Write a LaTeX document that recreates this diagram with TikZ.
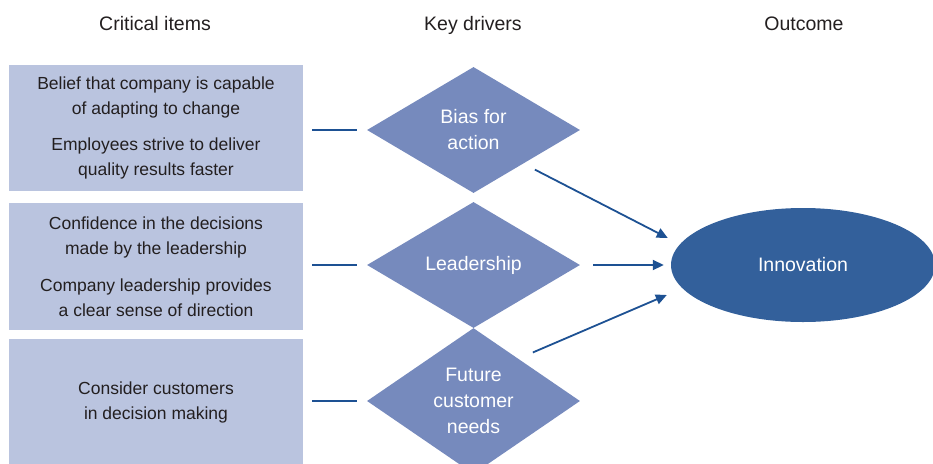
\documentclass[tikz,border=0pt]{standalone}
\usepackage{fontspec}
\setmainfont{Liberation Sans}
\usetikzlibrary{shapes.geometric,arrows.meta}

\definecolor{itemfill}{HTML}{BAC4DF}
\definecolor{driverfill}{HTML}{768ABD}
\definecolor{outcomefill}{HTML}{33609B}
\definecolor{linkblue}{HTML}{1D5193}
\definecolor{headgray}{HTML}{231F20}

\begin{document}
\begin{tikzpicture}[x=1pt,y=-1pt,
    colhead/.style={anchor=base, text=headgray, font=\fontsize{19.5}{22}\selectfont},
    itembox/.style={fill=itemfill, minimum width=294pt, inner sep=0pt, align=center,
                    text=headgray, font=\fontsize{17.5}{25}\selectfont},
    driver/.style={diamond, fill=driverfill, minimum width=213pt, minimum height=126pt,
                   inner sep=0pt, align=center, text=white, font=\fontsize{19.5}{26}\selectfont},
    outcome/.style={ellipse, fill=outcomefill, minimum width=264pt, minimum height=114pt,
                    inner sep=0pt, text=white, font=\fontsize{19.5}{22}\selectfont},
    tie/.style={draw=linkblue, line width=1.8pt, shorten <=9pt, shorten >=10pt},
    flow/.style={draw=linkblue, line width=1.8pt, -{Triangle[length=11pt,width=10pt]}}]
% help guide lines
%\draw[help lines] (0,0) grid [step=50pt] (933,463);
%
\useasboundingbox (0,0) rectangle (933,463);
% column headings
\node[colhead] (hcrit) at (155,30) {Critical items};
\node[colhead] (hdrv)  at (473,30) {Key drivers};
\node[colhead] (hout)  at (804,30) {Outcome};
% critical items
\node[itembox, minimum height=126pt] (crit1) at (156,128)
  {Belief that company is capable\\ of adapting to change\\[11pt]
   Employees strive to deliver\\ quality results faster};
\node[itembox, minimum height=127pt] (crit2) at (156,266.5)
  {Confidence in the decisions\\ made by the leadership\\[12pt]
   Company leadership provides\\ a clear sense of direction};
\node[itembox, minimum height=126pt] (crit3) at (156,402)
  {Consider customers\\ in decision making};
% key drivers
\node[driver] (drv1) at (473.5,130) {Bias for\\ action};
\node[driver] (drv2) at (473.5,265) {Leadership};
\node[driver] (drv3) at (473.5,401) {Future\\ customer\\ needs};
% outcome
\node[outcome] (outc) at (803,265) {Innovation};
% items to drivers
\draw[tie] (crit1.east |- drv1.west) -- (drv1.west);
\draw[tie] (crit2.east |- drv2.west) -- (drv2.west);
\draw[tie] (crit3.east |- drv3.west) -- (drv3.west);
% drivers to outcome
\draw[flow] ([shift={(8,8)}]drv1.south east) -- ([shift={(-3,-27)}]outc.west);
\draw[flow, shorten <=13pt, shorten >=7pt] (drv2.east) -- (outc.west);
\draw[flow] ([shift={(6,-12)}]drv3.north east) -- ([shift={(-4,30)}]outc.west);
\end{tikzpicture}
\end{document}
